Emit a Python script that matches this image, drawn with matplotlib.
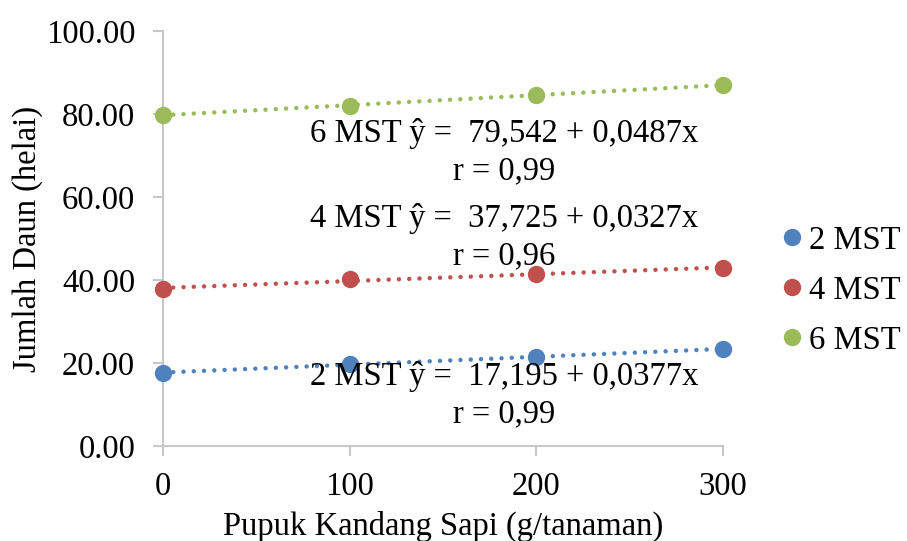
import matplotlib.pyplot as plt
import numpy as np

plt.rcParams['font.family'] = ['Liberation Serif', 'DejaVu Serif']

###########                 Data                 ###########
#----------------------------------------------------------#
dosis = [0, 100, 200, 300]
mst2 = [17.6, 19.8, 21.4, 23.4]
mst4 = [37.8, 40.2, 41.4, 42.9]
mst6 = [79.8, 82.0, 84.6, 87.0]
labels = ['2 MST', '4 MST', '6 MST']
colors = ['#4f81bd', '#c0504d', '#9bbb59']
persamaan = ['2 MST ŷ =  17,195 + 0,0377x\nr = 0,99',
             '4 MST ŷ =  37,725 + 0,0327x\nr = 0,96',
             '6 MST ŷ =  79,542 + 0,0487x\nr = 0,99']
teks_y = [12.3, 50.3, 70.9]
yticks = [0, 20, 40, 60, 80, 100]

FS = 23.5

###########               Figure                 ###########
#----------------------------------------------------------#
fig = plt.figure(figsize=(9.07, 5.41), dpi=100)
ax = fig.add_axes([0.1797, 0.1756, 0.6174, 0.767])

x = np.array(dosis)
for seri, lab, col in zip([mst2, mst4, mst6], labels, colors):
    b, a = np.polyfit(x, seri, 1)
    ax.plot(x, a + b * x, linestyle=(0, (0.01, 2.3)), color=col,
            linewidth=3.2, dash_capstyle='round', zorder=2)
    ax.plot(x, seri, 'o', color=col, markersize=11.5, label=lab,
            clip_on=False, zorder=3)

for txt, ty in zip(persamaan, teks_y):
    ax.text(183, ty, txt, ha='center', va='center', fontsize=FS,
            linespacing=1.28, zorder=4)

ax.set_xlim(0, 300)
ax.set_ylim(0, 100)
ax.set_xticks(dosis)
ax.set_yticks(yticks)
ax.set_yticklabels(['%.2f' % v for v in yticks])

for s in ['top', 'right']:
    ax.spines[s].set_visible(False)
for s in ['left', 'bottom']:
    ax.spines[s].set_color('#c8c8c8')
    ax.spines[s].set_linewidth(1.5)
ax.tick_params(axis='both', colors='#c8c8c8', labelcolor='black',
               labelsize=FS, length=7, width=1.5)
ax.tick_params(axis='x', pad=11)
ax.tick_params(axis='y', pad=13)

ax.set_xlabel('Pupuk Kandang Sapi (g/tanaman)', fontsize=FS, labelpad=7)
ax.set_ylabel('Jumlah Daun (helai)', fontsize=FS, labelpad=2)

ax.legend(loc='center left', bbox_to_anchor=(1.07, 0.375), frameon=False,
          fontsize=FS, handletextpad=0.05, labelspacing=0.6,
          handlelength=1.0, borderaxespad=0)

fig.savefig('out.png', dpi=100)
